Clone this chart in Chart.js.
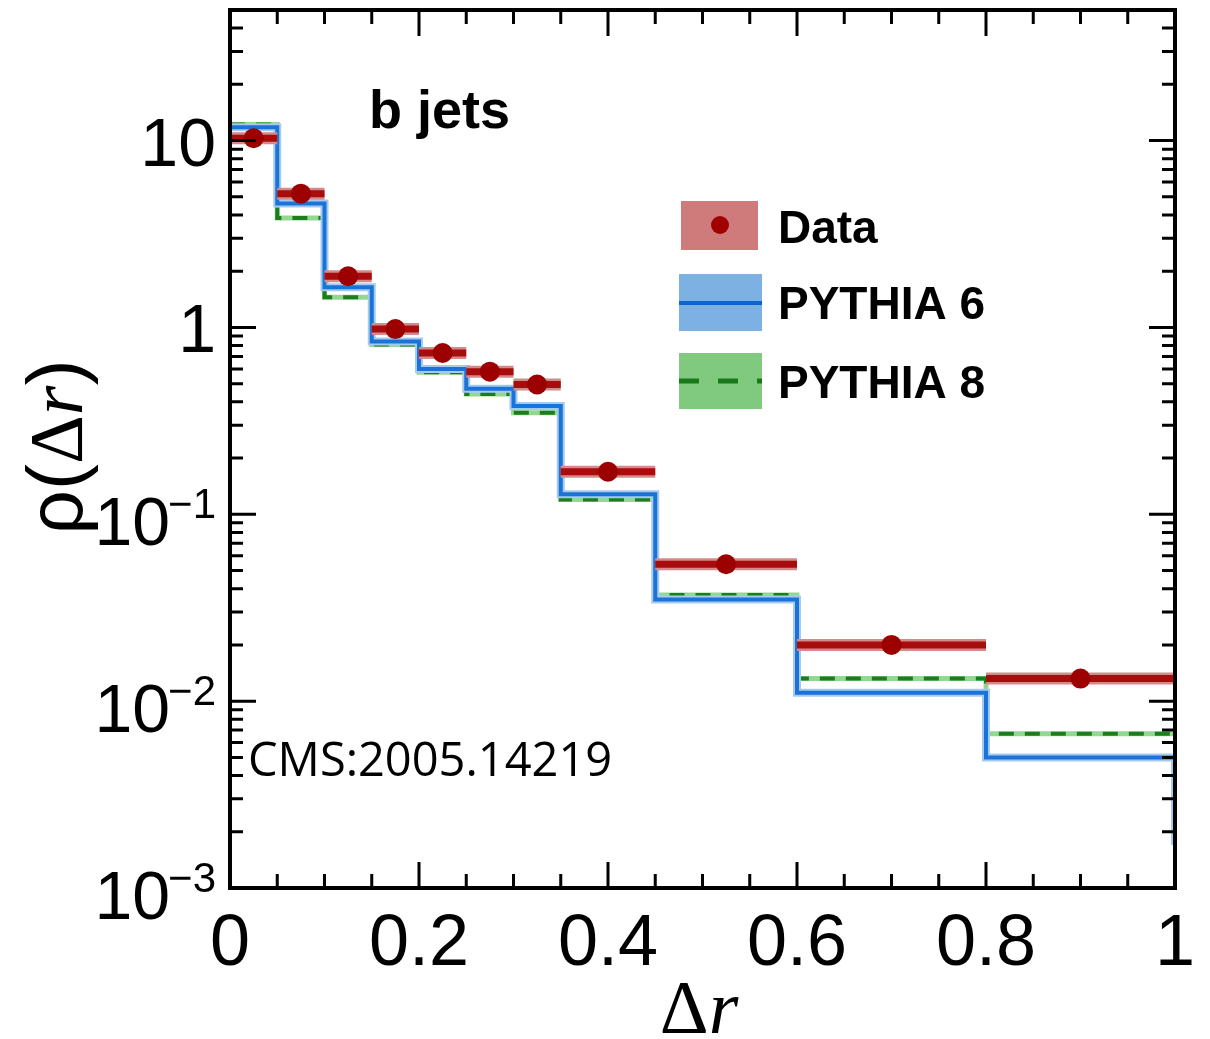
<!DOCTYPE html>
<html>
<head>
<meta charset="utf-8">
<script src="https://cdn.jsdelivr.net/npm/chart.js@4.4.1/dist/chart.umd.min.js"></script>
<style>
  html, body { margin: 0; padding: 0; background: #fff; }
  #wrap { width: 1210px; height: 1039px; }
</style>
</head>
<body>
<div id="wrap"><canvas id="rhoChart" width="1210" height="1039"></canvas></div>
<script>
// bin edges in delta r, and one value per bin
const binEdges = [0, 0.05, 0.1, 0.15, 0.2, 0.25, 0.3, 0.35, 0.45, 0.6, 0.8, 1.0];
const dataValues = [10.3, 5.2, 1.88, 0.98, 0.73, 0.58, 0.495, 0.169, 0.054, 0.020, 0.0132];
const pythia6Values = [11.8, 4.6, 1.64, 0.84, 0.60, 0.47, 0.38, 0.128, 0.035, 0.0111, 0.0050];
const pythia8Values = [12.2, 3.85, 1.45, 0.81, 0.575, 0.44, 0.35, 0.12, 0.037, 0.0132, 0.0067];
const pythia6EndValue = 0.0017; // closing edge of the blue histogram at delta r = 1
const xTickLabels = ['0', '0.2', '0.4', '0.6', '0.8', '1'];
const xMinorStep = 0.05;
const yTickValues = [0.001, 0.01, 0.1, 1, 10];
const legendLabels = ['Data', 'PYTHIA 6', 'PYTHIA 8'];

// histogram outline: a point at each left edge, plus the last right edge
function histPoints(vals) {
    return binEdges.map((x, i) => ({ x: x, y: vals[Math.min(i, vals.length - 1)] }));
}
// horizontal bars across each bin, broken by nulls
function barPoints(vals) {
    const pts = [];
    vals.forEach((v, i) => {
        pts.push({ x: binEdges[i], y: v }, { x: binEdges[i + 1], y: v }, { x: binEdges[i + 1], y: null });
    });
    return pts;
}
const centers = dataValues.map((v, i) => ({ x: (binEdges[i] + binEdges[i + 1]) / 2, y: v }));

const FONT = '"Liberation Sans", Arial, sans-serif';
const SERIF = '"Liberation Serif", "Times New Roman", serif';

const decorPlugin = {
    id: 'decor',
    afterDatasetsDraw(chart) {
        const ctx = chart.ctx;
        const a = chart.chartArea;
        const xs = chart.scales.x, ys = chart.scales.y;
        ctx.save();

        // ticks, drawn inward ROOT style on all four sides
        ctx.strokeStyle = '#000';
        ctx.lineWidth = 3;
        ctx.beginPath();
        for (let k = 0; k <= Math.round(1 / xMinorStep); k++) {
            const px = xs.getPixelForValue(k * xMinorStep);
            const len = (k % 4 === 0) ? 26 : 14;
            ctx.moveTo(px, a.bottom); ctx.lineTo(px, a.bottom - len);
            ctx.moveTo(px, a.top); ctx.lineTo(px, a.top + len);
        }
        for (let e = -3; e <= 1; e++) {
            for (let m = 1; m <= 9; m++) {
                const v = m * Math.pow(10, e);
                if (v > ys.max) break;
                const py = ys.getPixelForValue(v);
                const len = (m === 1) ? 26 : 13;
                ctx.moveTo(a.left, py); ctx.lineTo(a.left + len, py);
                ctx.moveTo(a.right, py); ctx.lineTo(a.right - len, py);
            }
        }
        ctx.stroke();

        // frame
        ctx.lineWidth = 4;
        ctx.strokeRect(a.left, a.top, a.right - a.left, a.bottom - a.top);

        // x tick labels
        ctx.fillStyle = '#000';
        ctx.font = '72px ' + FONT;
        ctx.textAlign = 'center';
        ctx.textBaseline = 'alphabetic';
        xTickLabels.forEach(t => {
            ctx.fillText(t, xs.getPixelForValue(parseFloat(t)), 965);
        });

        // y tick labels with exponents
        yTickValues.forEach(v => {
            const py = ys.getPixelForValue(v);
            const e = Math.round(Math.log10(v));
            const right = 216;
            ctx.textAlign = 'right';
            if (e === 0 || e === 1) {
                ctx.font = '68px ' + FONT;
                ctx.fillText(e === 0 ? '1' : '10', right, py + 25);
            } else {
                const sup = '\u2212' + Math.abs(e);
                ctx.font = '42px ' + FONT;
                ctx.fillText(sup, right, py + 4);
                const w = ctx.measureText(sup).width;
                ctx.font = '68px ' + FONT;
                ctx.fillText('10', right - w + 2, py + 31);
            }
        });

        // x axis title
        ctx.textAlign = 'left';
        ctx.font = '76px ' + SERIF;
        const dW = ctx.measureText('\u0394').width;
        ctx.font = 'italic 76px ' + SERIF;
        const rW = ctx.measureText('r').width;
        const tx = 699 - (dW + rW) / 2;
        ctx.font = '76px ' + SERIF;
        ctx.fillText('\u0394', tx, 1033);
        ctx.font = 'italic 76px ' + SERIF;
        ctx.fillText('r', tx + dW, 1033);

        // y axis title, rotated
        ctx.save();
        ctx.translate(82, 447);
        ctx.rotate(-Math.PI / 2);
        const parts = [['\u03c1(', '78px ' + FONT], ['\u0394', '76px ' + SERIF], ['r', 'italic 76px ' + SERIF], [')', '78px ' + FONT]];
        let total = 0;
        parts.forEach(p => { ctx.font = p[1]; total += ctx.measureText(p[0]).width; });
        let cx = -total / 2;
        parts.forEach(p => { ctx.font = p[1]; ctx.fillText(p[0], cx, 0); cx += ctx.measureText(p[0]).width; });
        ctx.restore();

        // b jets label
        ctx.font = 'bold 54px ' + FONT;
        ctx.fillText('b jets', 369, 128);

        // reference tag
        ctx.font = '47px "Open Sans", ' + FONT;
        ctx.fillText('CMS:2005.14219', 248, 776);

        // legend
        ctx.fillStyle = '#d07b7b';
        ctx.fillRect(681, 201, 77, 49);
        ctx.fillStyle = '#a00000';
        ctx.beginPath(); ctx.arc(720, 225, 9, 0, Math.PI * 2); ctx.fill();

        ctx.fillStyle = '#7eb1e3';
        ctx.fillRect(679, 274, 83, 57);
        ctx.strokeStyle = '#0a66cc'; ctx.lineWidth = 4;
        ctx.beginPath(); ctx.moveTo(679, 303); ctx.lineTo(762, 303); ctx.stroke();

        ctx.fillStyle = '#80ca80';
        ctx.fillRect(679, 353, 83, 56);
        ctx.strokeStyle = '#1a7a1a'; ctx.lineWidth = 5;
        ctx.setLineDash([20, 19]);
        ctx.beginPath(); ctx.moveTo(679, 381); ctx.lineTo(762, 381); ctx.stroke();
        ctx.setLineDash([]);

        ctx.fillStyle = '#000';
        ctx.font = 'bold 46px ' + FONT;
        ctx.textBaseline = 'middle';
        [228, 304, 383].forEach((y, i) => ctx.fillText(legendLabels[i], 778, y + 2));

        ctx.restore();
    }
};

// lower "order" is drawn on top
new Chart(document.getElementById('rhoChart'), {
    type: 'line',
    data: {
        datasets: [
            { // PYTHIA 8 band
                data: histPoints(pythia8Values), stepped: true, borderColor: '#92d892', borderWidth: 5,
                pointRadius: 0, fill: false, order: 7
            },
            { // PYTHIA 8
                data: histPoints(pythia8Values), stepped: true, borderColor: '#1b7d1b', borderWidth: 4,
                borderDash: [15, 11], pointRadius: 0, fill: false, order: 6
            },
            { // PYTHIA 6 band
                data: histPoints(pythia6Values).concat([{ x: 1.0, y: pythia6EndValue }]), stepped: true,
                borderColor: '#a6caef', borderWidth: 8, pointRadius: 0, fill: false, order: 5
            },
            { // PYTHIA 6
                data: histPoints(pythia6Values).concat([{ x: 1.0, y: pythia6EndValue }]), stepped: true,
                borderColor: '#1a74d8', borderWidth: 4, pointRadius: 0, fill: false, order: 4
            },
            { // data uncertainty band
                data: barPoints(dataValues), borderColor: '#d48a8a', borderWidth: 12,
                pointRadius: 0, spanGaps: false, fill: false, order: 3
            },
            { // data bin widths
                data: barPoints(dataValues), borderColor: '#a80c0c', borderWidth: 7,
                pointRadius: 0, spanGaps: false, fill: false, order: 2
            },
            { // data points
                data: centers, showLine: false, pointRadius: 10,
                pointBackgroundColor: '#9c0000', pointBorderWidth: 0, order: 1
            }
        ]
    },
    options: {
        responsive: false,
        devicePixelRatio: 1,
        animation: false,
        layout: { padding: { left: 230, right: 35, top: 10, bottom: 151 } },
        scales: {
            x: { type: 'linear', min: 0, max: 1, display: false },
            y: { type: 'logarithmic', min: 0.001, max: 50, display: false }
        },
        plugins: { legend: { display: false }, tooltip: { enabled: false } }
    },
    plugins: [decorPlugin]
});
</script>
</body>
</html>
